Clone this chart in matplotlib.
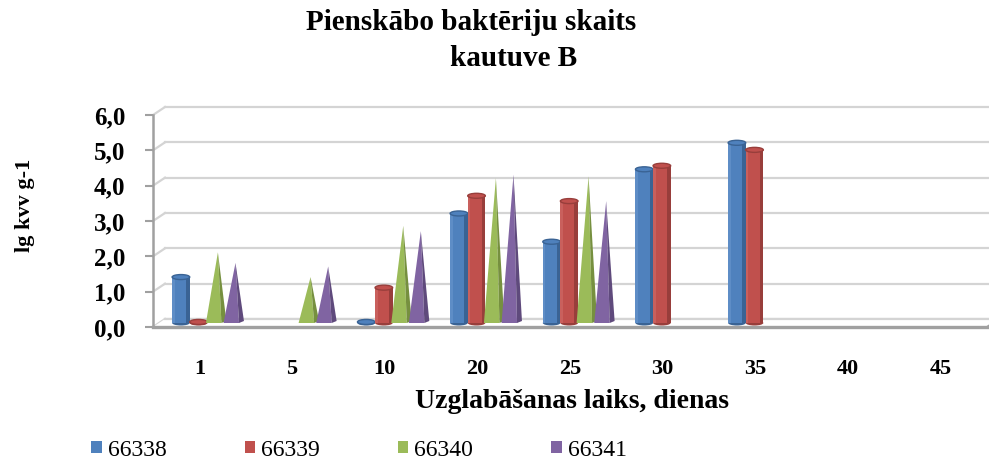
import numpy as np
import matplotlib.pyplot as plt
from matplotlib.patches import Rectangle, Ellipse, Polygon, Patch

# ---- data ----
days = ["1", "5", "10", "20", "25", "30", "35", "40", "45"]
series_names = ["66338", "66339", "66340", "66341"]
v_66338 = [1.3, np.nan, 0.03, 3.1, 2.3, 4.35, 5.1, np.nan, np.nan]
v_66339 = [0.03, np.nan, 1.0, 3.6, 3.45, 4.45, 4.9, np.nan, np.nan]
v_66340 = [2.0, 1.3, 2.75, 4.1, 4.15, np.nan, np.nan, np.nan, np.nan]
v_66341 = [1.7, 1.6, 2.6, 4.2, 3.45, np.nan, np.nan, np.nan, np.nan]
yticks = [0, 1, 2, 3, 4, 5, 6]

colors = ["#4F81BD", "#C0504D", "#9BBB59", "#8064A2"]
darks = ["#3A6394", "#983E3B", "#76903F", "#5F4A7C"]
lights = ["#6E9AD0", "#D3706D", "#B5D07A", "#9A82BC"]
shapes = ["cyl", "cyl", "cone", "cone"]

SERIF = "Liberation Serif"
W, H = 989, 463

fig = plt.figure(figsize=(W / 100, H / 100), dpi=100)
# front plane of the 3D box
x0px, x1px, ybot, ytop = 153, 987, 327, 115
ax = fig.add_axes([x0px / W, (H - ybot) / H, (x1px - x0px) / W, (ybot - ytop) / H])
n = len(days)
ax.set_xlim(-0.5, n - 0.5)
ax.set_ylim(0, 6)

# pixel -> data conversion for the fake depth
PX_X = n / (x1px - x0px)
PX_Y = 6 / (ybot - ytop)
bdx, bdy = 12 * PX_X, 8 * PX_Y   # back wall offset
mdx, mdy = 8 * PX_X, 4 * PX_Y    # bars sit in the middle
grid_c = "#D4D4D4"
axis_c = "#A0A0A0"

# back wall grid + diagonals
for t in yticks:
    ax.plot([-0.5, -0.5 + bdx], [t, t + bdy], color=grid_c, lw=1.6, clip_on=False, zorder=1)
    ax.plot([-0.5 + bdx, n - 0.5 + bdx], [t + bdy, t + bdy], color=grid_c, lw=1.6,
            clip_on=False, zorder=1)

# floor
ax.add_patch(Polygon([(-0.5, 0), (n - 0.5, 0), (n - 0.5 + bdx, bdy), (-0.5 + bdx, bdy)],
                     closed=True, facecolor="white", edgecolor="none", clip_on=False, zorder=1.5))
ax.plot([-0.5 + bdx, n - 0.5 + bdx], [bdy, bdy], color=grid_c, lw=1.6, clip_on=False, zorder=1.6)
ax.plot([-0.5, n - 0.5], [0, 0], color=axis_c, lw=2.4, clip_on=False, zorder=1.7)
ax.plot([n - 0.5, n - 0.5 + bdx], [0, bdy], color=axis_c, lw=1.5, clip_on=False, zorder=1.7)

w = 0.19
ell = 5 * PX_Y
all_vals = [v_66338, v_66339, v_66340, v_66341]
for k, vals in enumerate(all_vals):
    for i, v in enumerate(vals):
        if np.isnan(v):
            continue
        xc = i + (k - 1.5) * w + mdx
        xl, xr = xc - w / 2, xc + w / 2
        z = 3 + k * 0.1
        if shapes[k] == "cyl":
            ax.add_patch(Ellipse((xc, mdy), w, ell, facecolor=darks[k], edgecolor="none",
                                 zorder=z, clip_on=False))
            ax.add_patch(Rectangle((xl, mdy), w, v, facecolor=colors[k], edgecolor="none",
                                   zorder=z, clip_on=False))
            ax.add_patch(Rectangle((xr - 0.2 * w, mdy), 0.2 * w, v, facecolor=darks[k],
                                   edgecolor="none", zorder=z, clip_on=False))
            ax.add_patch(Rectangle((xl, mdy), 0.15 * w, v, facecolor=lights[k],
                                   edgecolor="none", alpha=0.5, zorder=z, clip_on=False))
            ax.add_patch(Ellipse((xc, mdy + v), w, ell, facecolor=colors[k], edgecolor=darks[k],
                                 lw=1.0, zorder=z + 0.01, clip_on=False))
        else:
            apex = (xl + 0.6 * w, mdy + v)
            split = xl + 0.8 * w
            ax.add_patch(Polygon([(xl - 0.08 * w, mdy), (split, mdy), apex], closed=True,
                                 facecolor=colors[k], edgecolor="none", zorder=z, clip_on=False))
            ax.add_patch(Polygon([(split, mdy), (xr + 0.08 * w, mdy + 2 * PX_Y), apex], closed=True,
                                 facecolor=darks[k], edgecolor="none", zorder=z, clip_on=False))

# axes cosmetics
for s in ["top", "right", "bottom"]:
    ax.spines[s].set_visible(False)
ax.spines["left"].set_color(axis_c)
ax.spines["left"].set_linewidth(1.8)
ax.set_facecolor("none")
ax.set_yticks(yticks)
ax.set_yticklabels([f"{t:.1f}".replace(".", ",") for t in yticks],
                   fontfamily=SERIF, fontweight="bold", fontsize=18)
ax.tick_params(axis="y", length=6, width=1.5, color=axis_c, pad=14)
ax.set_xticks(range(n))
ax.set_xticklabels(days, fontfamily=SERIF, fontweight="bold", fontsize=16)
ax.tick_params(axis="x", length=0, pad=23)

fig.text(471 / W, 1 - 22 / H, "Pienskābo baktēriju skaits", ha="center", va="center",
         fontfamily=SERIF, fontweight="bold", fontsize=21)
fig.text(514 / W, 1 - 58 / H, "kautuve B", ha="center", va="center",
         fontfamily=SERIF, fontweight="bold", fontsize=21)
fig.text(25 / W, 1 - 205 / H, "lg kvv g-1", rotation=90, ha="center", va="center",
         fontfamily=SERIF, fontweight="bold", fontsize=16)
fig.text(572 / W, 1 - 402 / H, "Uzglabāšanas laiks, dienas", ha="center", va="center",
         fontfamily=SERIF, fontweight="bold", fontsize=20)

handles = [Patch(facecolor=c, edgecolor="none", label=s) for c, s in zip(colors, series_names)]
fig.legend(handles=handles, loc="center left", bbox_to_anchor=(82 / W, 1 - 450 / H), ncol=4,
           frameon=False, prop={"family": SERIF, "size": 17}, handlelength=0.45,
           handleheight=0.45, handletextpad=0.25, columnspacing=3.3, borderaxespad=0)

fig.savefig("out.png", dpi=100)
